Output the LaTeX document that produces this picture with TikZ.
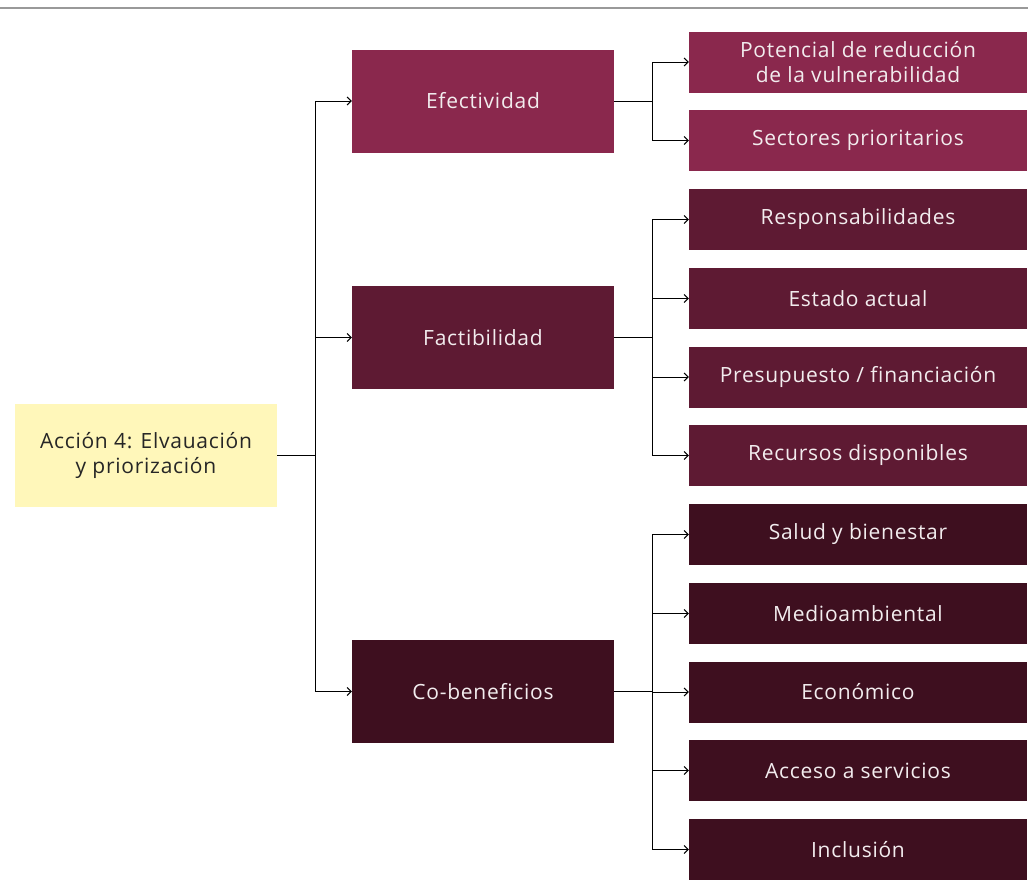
\documentclass[tikz,border=0pt]{standalone}
\usepackage{fontspec}
\setmainfont{Open Sans}[Ligatures={NoCommon},LetterSpace=3.5]
\usetikzlibrary{arrows.meta}
\definecolor{cA}{HTML}{8A284D}
\definecolor{cB}{HTML}{5E1A33}
\definecolor{cC}{HTML}{3E0F1F}
\definecolor{cY}{HTML}{FFF7BA}
\definecolor{txtW}{HTML}{F2ECEE}
\begin{document}
\begin{tikzpicture}[x=1pt,y=-1pt,
  box/.style={minimum width=262pt,minimum height=103pt,inner sep=0pt,align=center,font=\fontsize{21}{25}\selectfont,text=txtW},
  leaf/.style={minimum width=338pt,minimum height=61pt,inner sep=0pt,align=center,font=\fontsize{21}{25}\selectfont,text=txtW},
  conn/.style={line width=1pt,-{Straight Barb[length=4pt,width=8pt]}},
  plain/.style={line width=1pt}]
\useasboundingbox (0,0) rectangle (1028,894);
\draw[line width=2pt,color=black!40] (0,7.5) -- (1028,7.5);
\node[box,fill=cY,text=black!85,minimum width=262pt] (root) at (146,455.5) {Acción 4: Elvauación\\y priorización};
\node[box,fill=cA] (ef) at (483,101) {Efectividad};
\node[box,fill=cB] (fa) at (483,337.5) {Factibilidad};
\node[box,fill=cC] (co) at (483,691.5) {Co-beneficios};
\node[leaf,fill=cA] (l1) at (858,62) {Potencial de reducción\\de la vulnerabilidad};
\node[leaf,fill=cA] (l2) at (858,140.5) {Sectores prioritarios};
\node[leaf,fill=cB] (l3) at (858,219.5) {Responsabilidades};
\node[leaf,fill=cB] (l4) at (858,298.5) {Estado actual};
\node[leaf,fill=cB] (l5) at (858,377) {Presupuesto / financiación};
\node[leaf,fill=cB] (l6) at (858,455.5) {Recursos disponibles};
\node[leaf,fill=cC] (l7) at (858,534.5) {Salud y bienestar};
\node[leaf,fill=cC] (l8) at (858,613.5) {Medioambiental};
\node[leaf,fill=cC] (l9) at (858,692) {Económico};
\node[leaf,fill=cC] (l10) at (858,770.5) {Acceso a servicios};
\node[leaf,fill=cC] (l11) at (858,849.5) {Inclusión};
% trunk
\coordinate (t0) at (315,455.5);
\draw[plain] (root.east) -- (t0);
\draw[conn] (t0) |- (ef.west);
\draw[conn] (t0) |- (fa.west);
\draw[conn] (t0) |- (co.west);
% efectividad
\coordinate (b1) at (652,101);
\draw[plain] (ef.east) -- (b1);
\draw[conn] (b1) |- (l1.west);
\draw[conn] (b1) |- (l2.west);
% factibilidad
\coordinate (b2) at (652,337.5);
\draw[plain] (fa.east) -- (b2);
\foreach \n in {l3,l4,l5,l6} \draw[conn] (b2) |- (\n.west);
% co-beneficios
\coordinate (b3) at (652,691.5);
\draw[plain] (co.east) -- (b3);
\foreach \n in {l7,l8,l9,l10,l11} \draw[conn] (b3) |- (\n.west);
\end{tikzpicture}
\end{document}
